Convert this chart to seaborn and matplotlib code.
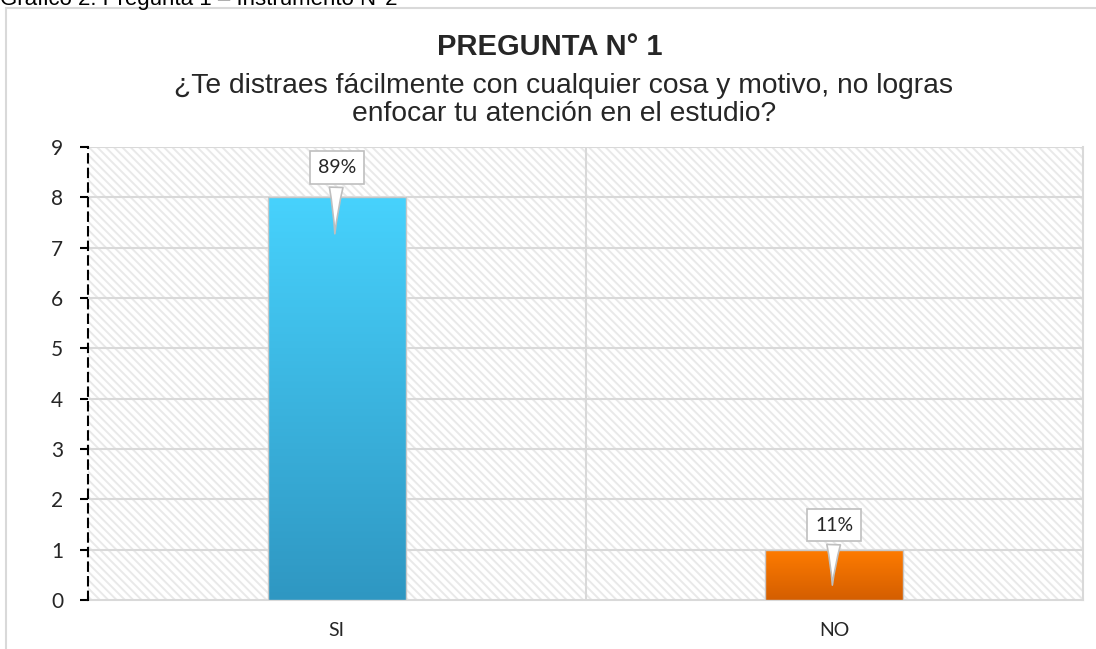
import numpy as np
import pandas as pd
import matplotlib
matplotlib.use("Agg")
import matplotlib.pyplot as plt
import seaborn as sns
from matplotlib.colors import LinearSegmentedColormap
from matplotlib.patches import Rectangle

# datos de la pregunta 1
categorias = ["SI", "NO"]
frecuencias = [8, 1]
porcentajes = ["89%", "11%"]
ticks_y = list(range(0, 10))

titulo = "PREGUNTA N° 1"
subtitulo = "¿Te distraes fácilmente con cualquier cosa y motivo, no logras\nenfocar tu atención en el estudio?"
leyenda_sup = "Gráfico 2: Pregunta 1 – Instrumento N°2"

sns.set_theme(style="white")
plt.rcParams["font.family"] = ["Liberation Sans", "DejaVu Sans"]
plt.rcParams["hatch.linewidth"] = 1.4
plt.rcParams["hatch.color"] = "#e9e9e9"

df = pd.DataFrame({"respuesta": categorias, "cantidad": frecuencias})

fig = plt.figure(figsize=(10.96, 6.49), dpi=100)
ax = fig.add_axes([88 / 1096, 1 - 600 / 649, (1083 - 88) / 1096, (600 - 147) / 649])

# borde del grafico y leyenda superior recortada
fig.patches.append(Rectangle((6 / 1096, -0.1), 1.2, 1 - 8 / 649 + 0.1, transform=fig.transFigure,
                             fill=False, ec="#d9d9d9", lw=1.5, zorder=0))
fig.text(0.0, 1 - 5 / 649, leyenda_sup, fontsize=16, va="baseline", ha="left", color="black")

sns.barplot(data=df, x="respuesta", y="cantidad", hue="respuesta", palette=["#41c6f2", "#f07000"],
            width=0.278, legend=False, ax=ax, zorder=3)
barras = [p for c in ax.containers for p in c.patches]

# fondo con trama diagonal
ax.set_facecolor("white")
ax.add_patch(Rectangle((0, 0), 1, 1, transform=ax.transAxes, facecolor="none", ec="#e9e9e9",
                       hatch="\\\\\\\\", lw=0.01, zorder=0.5))

# degradado en las barras
grad_cols = [("#2f97c2", "#47d2fd"), ("#d45e00", "#ff7c00")]
for p, (c_bot, c_top) in zip(barras, grad_cols):
    x0, y0 = p.get_x(), p.get_y()
    w, h = p.get_width(), p.get_height()
    cmap = LinearSegmentedColormap.from_list("g", [c_bot, c_top])
    im = ax.imshow(np.linspace(0, 1, 256).reshape(-1, 1), cmap=cmap, origin="lower",
                   extent=[x0, x0 + w, y0, y0 + h], aspect="auto", zorder=4)
    im.set_clip_path(p)
    ax.add_patch(Rectangle((x0, y0), w, h, fill=False, ec="#c8c8c8", lw=1, zorder=4.5))

ax.set_xlim(-0.5, 1.5)
ax.set_ylim(0, 9)
ax.set_yticks(ticks_y)
ax.set_yticklabels([str(t) for t in ticks_y], fontsize=15, family=["Lato", "DejaVu Sans"])
ax.set_xticks(range(len(categorias)))
ax.set_xticklabels(categorias, fontsize=14, family=["Lato", "DejaVu Sans"])
ax.set_xlabel("")
ax.set_ylabel("")
ax.tick_params(axis="x", length=0, pad=16)
ax.tick_params(axis="y", length=6, width=1.5, color="black", direction="out", left=True, pad=12)

# rejilla
for t in ticks_y[1:]:
    ax.axhline(t, color="#d9d9d9", lw=1.5, zorder=1)
ax.axvline(0.5, color="#d9d9d9", lw=1.5, zorder=1)

for s in ["top", "right", "bottom"]:
    ax.spines[s].set_color("#d9d9d9")
    ax.spines[s].set_linewidth(1.5)
ax.spines["top"].set_visible(False)
ax.spines["left"].set_color("black")
ax.spines["left"].set_linewidth(1.5)
ax.spines["left"].set_linestyle((0, (4, 3)))
ax.spines["left"].set_zorder(5)

# etiquetas de porcentaje tipo llamada
offs = [(8.59, 7.22), (1.49, 0.24)]
for i, (pct, (ty, tip)) in enumerate(zip(porcentajes, offs)):
    ax.annotate(pct, xy=(i - 0.004, tip), xytext=(i, ty), ha="center", va="center",
                fontsize=14, family=["Lato", "DejaVu Sans"], zorder=6,
                bbox=dict(boxstyle="square,pad=0.4", fc="white", ec="#bfbfbf", lw=1.2),
                arrowprops=dict(arrowstyle="wedge,tail_width=0.7,shrink_factor=0.4",
                                fc="white", ec="#bfbfbf", lw=1.2))

fig.text(550 / 1096, 1 - 47 / 649, titulo, fontsize=21, fontweight="bold", ha="center", va="center")
fig.text(564 / 1096, 1 - 100 / 649, subtitulo, fontsize=20.3, ha="center", va="center", linespacing=1.07)

fig.savefig("out.png", dpi=100)
